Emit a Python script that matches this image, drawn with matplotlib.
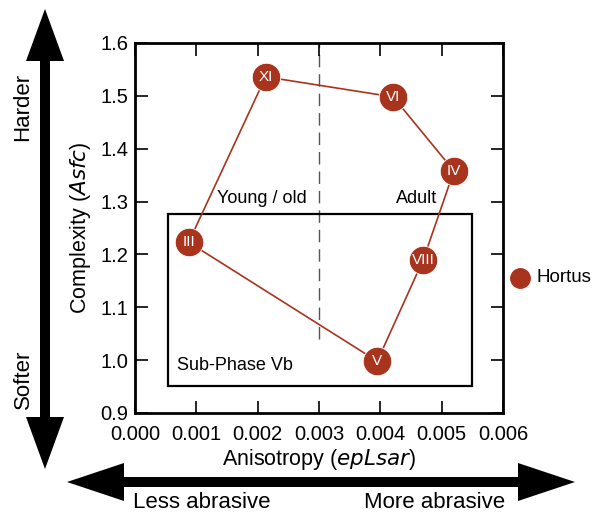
import matplotlib
matplotlib.use("Agg")
import matplotlib.pyplot as plt
from matplotlib.patches import Polygon, Rectangle

plt.rcParams['font.family'] = ['Liberation Sans', 'DejaVu Sans']

# Data
phases = ["III", "XI", "VI", "IV", "VIII", "V"]
anisotropy = [0.000875, 0.00213, 0.00421, 0.00520, 0.00470, 0.00395]
complexity = [1.223, 1.536, 1.498, 1.358, 1.190, 0.998]
series_name = "Hortus"
xticks = [0.000, 0.001, 0.002, 0.003, 0.004, 0.005, 0.006]
yticks = [0.9, 1.0, 1.1, 1.2, 1.3, 1.4, 1.5, 1.6]
box_x = [0.000543, 0.00550]
box_y = [0.951, 1.277]
divider_x = 0.003
divider_y = [1.04, 1.6]

color = '#a8341e'

fig = plt.figure(figsize=(6.03, 5.16), dpi=100)

# overlay for decorative arrows (pixel coordinates)
ov = fig.add_axes([0, 0, 1, 1])
ov.set_xlim(0, 603)
ov.set_ylim(516, 0)
ov.axis('off')

def varrow(x, y0, y1, sw, hw, hl):
    pts = [(x, y0), (x + hw/2, y0 + hl), (x + sw/2, y0 + hl), (x + sw/2, y1 - hl),
           (x + hw/2, y1 - hl), (x, y1), (x - hw/2, y1 - hl), (x - sw/2, y1 - hl),
           (x - sw/2, y0 + hl), (x - hw/2, y0 + hl)]
    ov.add_patch(Polygon(pts, closed=True, facecolor='black', edgecolor='none'))

def harrow(y, x0, x1, sw, hw, hl):
    pts = [(x0, y), (x0 + hl, y - hw/2), (x0 + hl, y - sw/2), (x1 - hl, y - sw/2),
           (x1 - hl, y - hw/2), (x1, y), (x1 - hl, y + hw/2), (x1 - hl, y + sw/2),
           (x0 + hl, y + sw/2), (x0 + hl, y + hw/2)]
    ov.add_patch(Polygon(pts, closed=True, facecolor='black', edgecolor='none'))

varrow(45, 9, 469, 10, 38, 52)
harrow(482, 67, 575, 10, 38, 57)
ov.text(23, 107, "Harder", rotation=90, ha='center', va='center', fontsize=16)
ov.text(23, 379, "Softer", rotation=90, ha='center', va='center', fontsize=16)
ov.text(202, 503, "Less abrasive", ha='center', va='center', fontsize=16)
ov.text(435, 503, "More abrasive", ha='center', va='center', fontsize=16)

ax = fig.add_axes([135/603, 1 - 413/516, 368/603, 370/516])
ax.set_xlim(0, 0.006)
ax.set_ylim(0.9, 1.6)
ax.set_xticks(xticks)
ax.set_xticklabels([f"{v:.3f}" for v in xticks])
ax.set_yticks(yticks)
ax.set_yticklabels([f"{v:.1f}" for v in yticks])
ax.tick_params(direction='in', length=9, width=1.2, labelsize=14.5, top=True, right=True,
               labeltop=False, labelright=False)
ax.tick_params(axis='x', pad=9)
ax.tick_params(axis='y', pad=5)
for s in ax.spines.values():
    s.set_linewidth(2.0)

ax.set_xlabel("Anisotropy ($\\it{epLsar}$)", fontsize=15.5, labelpad=2)
ax.set_ylabel("Complexity ($\\it{Asfc}$)", fontsize=15.5, labelpad=5)

# box and divider
ax.add_patch(Rectangle((box_x[0], box_y[0]), box_x[1] - box_x[0], box_y[1] - box_y[0],
                       fill=False, edgecolor='black', linewidth=1.6, zorder=2))
ax.plot([divider_x, divider_x], divider_y, color='#555555', linewidth=1.0,
        dashes=(9, 5), zorder=1)

ax.text(0.00207, 1.290, "Young / old", ha='center', va='bottom', fontsize=13)
ax.text(0.00492, 1.290, "Adult", ha='right', va='bottom', fontsize=13)
ax.text(0.00068, 0.973, "Sub-Phase Vb", ha='left', va='bottom', fontsize=13)

xs = anisotropy + [anisotropy[0]]
ys = complexity + [complexity[0]]
ax.plot(xs, ys, color=color, linewidth=1.2, zorder=3)
ax.plot(anisotropy, complexity, 'o', color=color, markersize=20.5,
        markeredgecolor='white', markeredgewidth=0.6, zorder=4, clip_on=False)
for x, y, lab in zip(anisotropy, complexity, phases):
    ax.text(x, y, lab, color='white', ha='center', va='center', fontsize=11, zorder=5)

# legend
ov.plot([519.5], [278], 'o', color=color, markersize=14)
ov.text(536, 278, series_name, ha='left', va='center', fontsize=13.5)

fig.savefig("out.png", dpi=100)
